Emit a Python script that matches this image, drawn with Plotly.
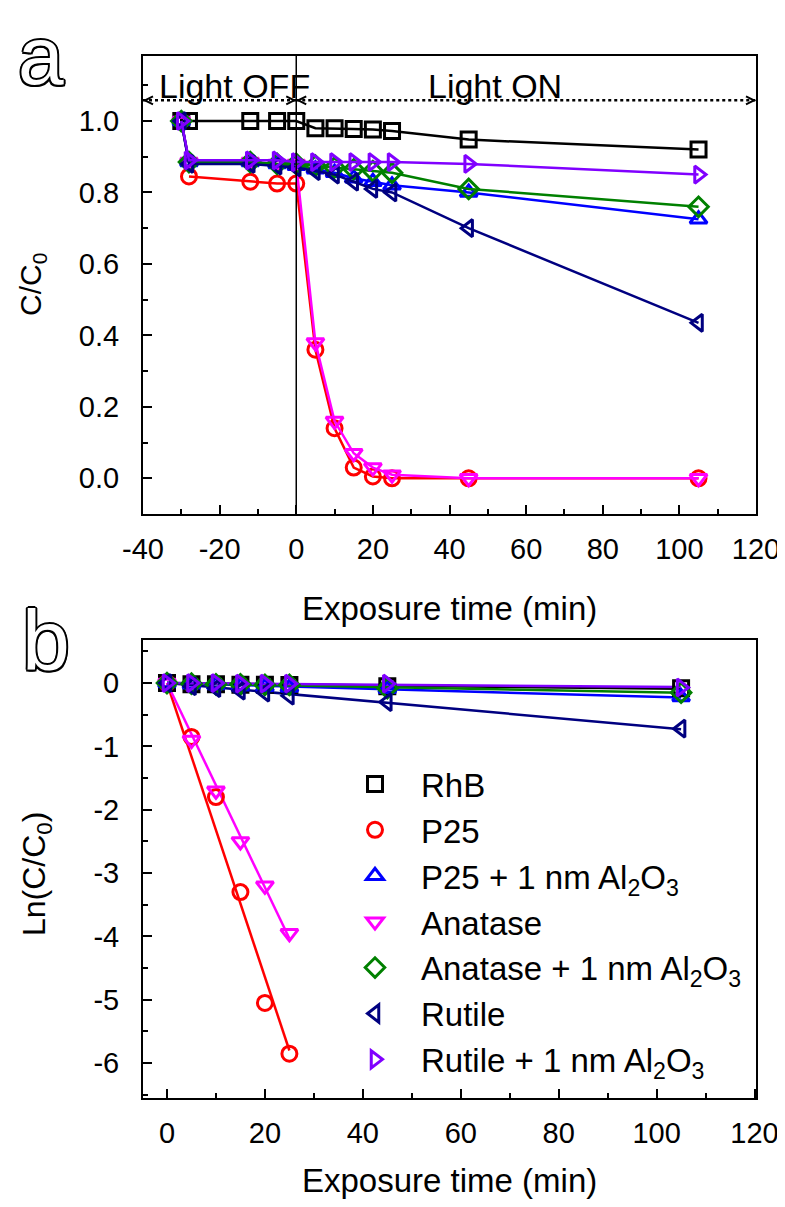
import numpy as np
import plotly.graph_objects as go

# ---------------- data ----------------
series_names = ["RhB", "P25", "P25 + 1 nm Al<sub>2</sub>O<sub>3</sub>", "Anatase",
                "Anatase + 1 nm Al<sub>2</sub>O<sub>3</sub>", "Rutile",
                "Rutile + 1 nm Al<sub>2</sub>O<sub>3</sub>"]
colors = ["#000000", "#ff0000", "#0000ff", "#ff00ff", "#008000", "#000080", "#8000ff"]
symbols = ["square-open", "circle-open", "triangle-up-open", "triangle-down-open",
           "diamond-open", "triangle-left-open", "triangle-right-open"]

# panel a : C/C0 vs time
t_a = [-30, -28, -12, -5, 0, 5, 10, 15, 20, 25, 45, 105]
a_rhb = [1.0, 1.0, 1.0, 1.0, 1.0, 0.98, 0.98, 0.978, 0.976, 0.972, 0.948, 0.92]
a_p25 = [None, 0.845, 0.83, 0.825, 0.825, 0.36, 0.14, 0.03, 0.005, 0.0, 0.0, 0.0]
a_p25_al = [1.0, 0.885, 0.885, 0.88, 0.875, 0.865, 0.855, 0.84, 0.83, 0.82, 0.80, 0.725]
a_anatase = [1.0, 0.885, 0.885, 0.88, 0.88, 0.38, 0.16, 0.07, 0.03, 0.01, 0.0, 0.0]
a_anatase_al = [1.0, 0.885, 0.885, 0.88, 0.88, 0.875, 0.87, 0.865, 0.86, 0.855, 0.81, 0.76]
a_rutile = [1.0, 0.88, 0.88, 0.875, 0.87, 0.86, 0.85, 0.83, 0.81, 0.80, 0.70, 0.435]
a_rutile_al = [1.0, 0.89, 0.89, 0.89, 0.885, 0.885, 0.885, 0.885, 0.885, 0.885, 0.88, 0.85]

# panel b : Ln(C/C0) vs time
t_b = [0, 5, 10, 15, 20, 25, 45, 105]
b_rhb = [0, -0.02, -0.02, -0.025, -0.025, -0.03, -0.05, -0.08]
b_p25 = [0, -0.85, -1.8, -3.3, -5.05, -5.85]
b_p25_al = [0, -0.02, -0.03, -0.05, -0.06, -0.07, -0.09, -0.22]
b_anatase = [0, -0.9, -1.7, -2.5, -3.2, -3.95]
b_anatase_al = [0, -0.01, -0.02, -0.02, -0.03, -0.03, -0.08, -0.15]
b_rutile = [0, -0.05, -0.08, -0.12, -0.15, -0.2, -0.3, -0.72]
b_rutile_al = [0, 0, 0, -0.01, -0.01, -0.01, -0.01, -0.07]

a_data = [a_rhb, a_p25, a_p25_al, a_anatase, a_anatase_al, a_rutile, a_rutile_al]
b_data = [b_rhb, b_p25, b_p25_al, b_anatase, b_anatase_al, b_rutile, b_rutile_al]

x_ticks_a = [-40, -20, 0, 20, 40, 60, 80, 100, 120]
y_ticks_a = [0.0, 0.2, 0.4, 0.6, 0.8, 1.0]
x_ticks_b = [0, 20, 40, 60, 80, 100, 120]
y_ticks_b = [0, -1, -2, -3, -4, -5, -6]

# ---------------- figure ----------------
W, H = 785, 1207
FONT = "Liberation Sans, Arial"

fig = go.Figure()

MS = 15
for name, c, s, ys in zip(series_names, colors, symbols, a_data):
    fig.add_trace(go.Scatter(
        x=t_a, y=ys, mode="lines+markers", name=name, showlegend=False,
        line=dict(color=c, width=2.5),
        marker=dict(symbol=s, size=MS, color=c, line=dict(width=3, color=c)),
        xaxis="x", yaxis="y"))

# panel b : fit lines (least squares through origin) then markers
for name, c, s, ys in zip(series_names, colors, symbols, b_data):
    tt = np.array(t_b[:len(ys)], dtype=float)
    yy = np.array(ys, dtype=float)
    k = float(np.sum(tt * yy) / np.sum(tt * tt))
    fig.add_trace(go.Scatter(
        x=[0, tt[-1]], y=[0, k * tt[-1]], mode="lines", showlegend=False,
        line=dict(color=c, width=2.5), xaxis="x2", yaxis="y2", hoverinfo="skip"))
for name, c, s, ys in zip(series_names, colors, symbols, b_data):
    fig.add_trace(go.Scatter(
        x=t_b[:len(ys)], y=ys, mode="markers", name=name, showlegend=True,
        marker=dict(symbol=s, size=MS, color=c, line=dict(width=3, color=c)),
        xaxis="x2", yaxis="y2"))

xl, xr = 135 / W, 748 / W
a_top_px, a_bot_px = 48, 506
b_top_px, b_bot_px = 632, 1090
a_top, a_bot = 1 - a_top_px / H, 1 - a_bot_px / H
b_top, b_bot = 1 - b_top_px / H, 1 - b_bot_px / H

axis_common = dict(showline=True, linecolor="black", linewidth=2, mirror=True,
                   ticks="inside", ticklen=9, tickwidth=2, tickcolor="black",
                   showgrid=False, zeroline=False, automargin=False,
                   ticklabeloverflow="allow",
                   tickfont=dict(family=FONT, size=29, color="black"))
minor_common = dict(ticks="inside", ticklen=5, tickwidth=2, tickcolor="black")

fig.update_layout(
    width=W, height=H, margin=dict(l=0, r=0, t=0, b=0, autoexpand=False),
    paper_bgcolor="white", plot_bgcolor="white",
    showlegend=True,
    legend=dict(x=321 / W, y=1 - 748 / H, xanchor="left", yanchor="top",
                bgcolor="rgba(0,0,0,0)", font=dict(family=FONT, size=33, color="black"),
                itemwidth=82, tracegroupgap=0),
    xaxis=dict(domain=[xl, xr], range=[-40, 120], tickvals=x_ticks_a,
               ticktext=[str(v) for v in x_ticks_a], ticklabelstandoff=8,
               minor=dict(dtick=10, tick0=0, **minor_common),
               anchor="y", **axis_common),
    yaxis=dict(domain=[a_bot, a_top], range=[-0.1, 1.182], tickvals=y_ticks_a,
               ticktext=["%.1f" % v for v in y_ticks_a], ticklabelstandoff=16,
               minor=dict(dtick=0.1, tick0=0, **minor_common),
               anchor="x", **axis_common),
    xaxis2=dict(domain=[xl, xr], range=[-4.9, 120.3], tickvals=x_ticks_b,
                ticktext=[str(v) for v in x_ticks_b], ticklabelstandoff=8,
                minor=dict(dtick=10, tick0=0, **minor_common),
                anchor="y2", **axis_common),
    yaxis2=dict(domain=[b_bot, b_top], range=[-6.55, 0.68], tickvals=y_ticks_b,
                ticktext=[str(v) for v in y_ticks_b], ticklabelstandoff=16,
                minor=dict(dtick=0.5, tick0=0, **minor_common),
                anchor="x2", **axis_common),
)

# axis titles as paper annotations
def paper_text(x_px, y_px, text, size, angle=0):
    fig.add_annotation(x=x_px / W, y=1 - y_px / H, xref="paper", yref="paper", text=text,
                       showarrow=False, textangle=angle, xanchor="center", yanchor="middle",
                       font=dict(family=FONT, size=size, color="black"))

paper_text(441, 600, "Exposure time (min)", 33)
paper_text(441, 1172, "Exposure time (min)", 33)
paper_text(24, 277, "C/C<sub>0</sub>", 30, -90)
paper_text(28, 866, "Ln(C/C<sub>0</sub>)", 32, -90)

# vertical separator at t = 0 in panel a
fig.add_shape(type="line", xref="x", yref="y domain", x0=0, x1=0, y0=0, y1=1,
              line=dict(color="black", width=1.5))

# dotted double-headed arrows
ARROW_Y = 1.058
for x0, x1 in [(-40, 0), (0, 120)]:
    fig.add_shape(type="line", xref="x", yref="y", x0=x0, x1=x1, y0=ARROW_Y, y1=ARROW_Y,
                  line=dict(color="black", width=2.5, dash="dot"))
    fig.add_shape(type="path", xref="x", yref="y", xsizemode="pixel", ysizemode="pixel",
                  xanchor=x0, yanchor=ARROW_Y, path="M 10 4 L 2 0 L 10 -4",
                  line=dict(color="black", width=2))
    fig.add_shape(type="path", xref="x", yref="y", xsizemode="pixel", ysizemode="pixel",
                  xanchor=x1, yanchor=ARROW_Y, path="M -10 4 L -2 0 L -10 -4",
                  line=dict(color="black", width=2))

fig.add_annotation(x=-16, y=1.097, xref="x", yref="y", text="Light OFF", showarrow=False,
                   font=dict(family=FONT, size=34, color="black"))
fig.add_annotation(x=52, y=1.097, xref="x", yref="y", text="Light ON", showarrow=False,
                   font=dict(family=FONT, size=34, color="black"))

outline = ("2px 0 0 #000, -2px 0 0 #000, 0 2px 0 #000, 0 -2px 0 #000, "
           "1.5px 1.5px 0 #000, -1.5px -1.5px 0 #000, 1.5px -1.5px 0 #000, -1.5px 1.5px 0 #000")
fig.add_annotation(x=8 / W, y=1.0, xref="paper", yref="paper", text="a", showarrow=False,
                   xanchor="left", yanchor="top",
                   font=dict(family=FONT, size=82, color="white", shadow=outline))
fig.add_annotation(x=12 / W, y=1 - 582 / H, xref="paper", yref="paper", text="b", showarrow=False,
                   xanchor="left", yanchor="top",
                   font=dict(family=FONT, size=86, color="white", shadow=outline))

fig.write_html("out.html")
